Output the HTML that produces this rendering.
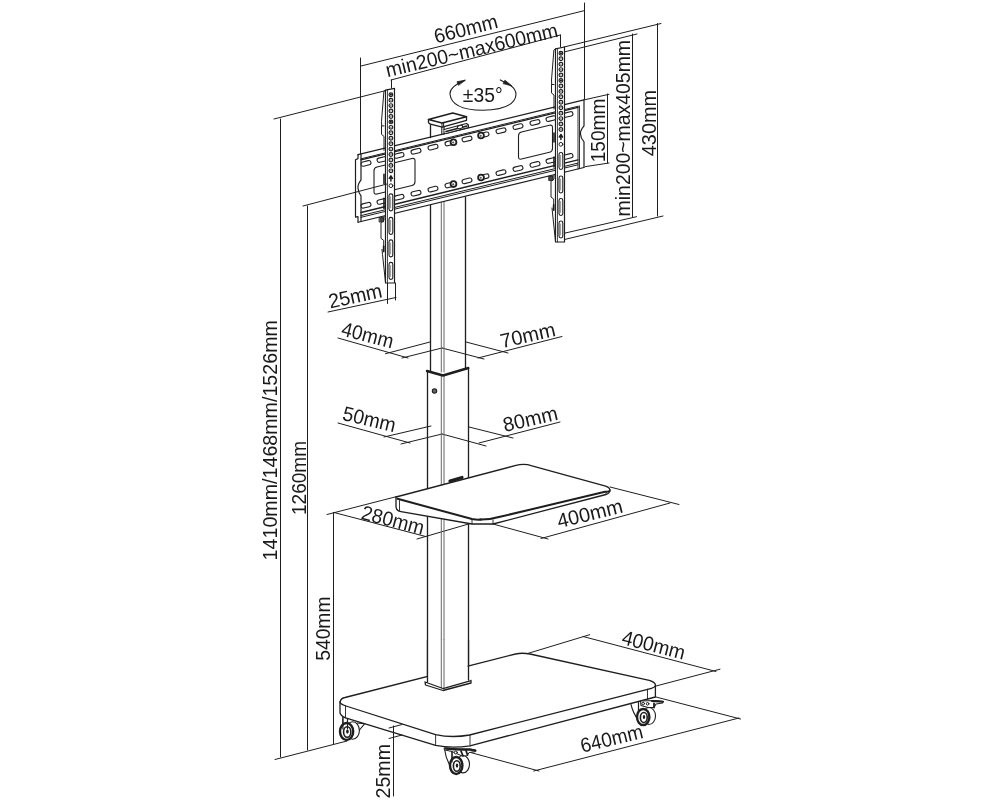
<!DOCTYPE html>
<html><head><meta charset="utf-8"><style>
html,body{margin:0;padding:0;background:#fff;width:1000px;height:800px;overflow:hidden}
svg{display:block;will-change:transform}
text{font-family:"Liberation Sans",sans-serif;fill:#1a1a1a}
</style></head><body>
<svg width="1000" height="800" viewBox="0 0 1000 800" stroke-linecap="round" stroke-linejoin="round">
<rect width="1000" height="800" fill="#fff"/>
<path d="M274,119 L388,90" stroke="#1e1e1e" stroke-width="1.0" fill="none" />
<path d="M280.5,119 V757" stroke="#1e1e1e" stroke-width="1.0" fill="none" />
<path d="M307.5,206 V750" stroke="#1e1e1e" stroke-width="1.0" fill="none" />
<path d="M275,759.5 L347,741" stroke="#1e1e1e" stroke-width="1.0" fill="none" />
<path d="M327,514.5 L397,496.5" stroke="#1e1e1e" stroke-width="1.0" fill="none" />
<path d="M333.5,512.5 V744" stroke="#1e1e1e" stroke-width="1.0" fill="none" />
<path d="M334,512.5 L426,536.6" stroke="#1e1e1e" stroke-width="1.0" fill="none" />
<path d="M417,539 L472,523" stroke="#1e1e1e" stroke-width="1.0" fill="none" />
<path d="M610,487 L679,504.5" stroke="#1e1e1e" stroke-width="1.0" fill="none" />
<path d="M493,524 L548,539" stroke="#1e1e1e" stroke-width="1.0" fill="none" />
<path d="M541,538.5 L670,503" stroke="#1e1e1e" stroke-width="1.0" fill="none" />
<path d="M361,66 L584.5,10.6" stroke="#1e1e1e" stroke-width="1.0" fill="none" />
<path d="M360.5,58 V154" stroke="#1e1e1e" stroke-width="1.0" fill="none" />
<path d="M584.5,3 V100" stroke="#1e1e1e" stroke-width="1.0" fill="none" />
<path d="M391,80 L560.3,35" stroke="#1e1e1e" stroke-width="1.0" fill="none" />
<path d="M391.5,80 V88" stroke="#1e1e1e" stroke-width="1.0" fill="none" />
<path d="M560.5,35 V47" stroke="#1e1e1e" stroke-width="1.0" fill="none" />
<path d="M564,47 L661,23.5" stroke="#1e1e1e" stroke-width="1.0" fill="none" />
<path d="M657.5,23.5 V216" stroke="#1e1e1e" stroke-width="1.0" fill="none" />
<path d="M556.5,241.4 L663,216" stroke="#1e1e1e" stroke-width="1.0" fill="none" />
<path d="M564,52 L637,34" stroke="#1e1e1e" stroke-width="1.0" fill="none" />
<path d="M632.5,34 V217" stroke="#1e1e1e" stroke-width="1.0" fill="none" />
<path d="M561,234 L636.5,216.7" stroke="#1e1e1e" stroke-width="1.0" fill="none" />
<path d="M584.5,99.8 L609,94.3" stroke="#1e1e1e" stroke-width="1.0" fill="none" />
<path d="M607.5,94 V163" stroke="#1e1e1e" stroke-width="1.0" fill="none" />
<path d="M583,167 L609,163" stroke="#1e1e1e" stroke-width="1.0" fill="none" />
<path d="M387.5,283 V303.5" stroke="#1e1e1e" stroke-width="1.0" fill="none" />
<path d="M395.5,283 V300" stroke="#1e1e1e" stroke-width="1.0" fill="none" />
<path d="M328,312 L396,297.5" stroke="#1e1e1e" stroke-width="1.0" fill="none" />
<path d="M338,338 L408,358" stroke="#1e1e1e" stroke-width="1.0" fill="none" />
<path d="M430,342 L385.5,353.7" stroke="#1e1e1e" stroke-width="1.0" fill="none" />
<path d="M442,348 L402,358" stroke="#1e1e1e" stroke-width="1.0" fill="none" />
<path d="M442,348 L484,359" stroke="#1e1e1e" stroke-width="1.0" fill="none" />
<path d="M466,342 L508,353" stroke="#1e1e1e" stroke-width="1.0" fill="none" />
<path d="M478,358 L562,336.5" stroke="#1e1e1e" stroke-width="1.0" fill="none" />
<path d="M338,423 L410,443" stroke="#1e1e1e" stroke-width="1.0" fill="none" />
<path d="M431,426 L384,437" stroke="#1e1e1e" stroke-width="1.0" fill="none" />
<path d="M442,434 L401,444" stroke="#1e1e1e" stroke-width="1.0" fill="none" />
<path d="M442,434 L486,446" stroke="#1e1e1e" stroke-width="1.0" fill="none" />
<path d="M469,427 L513,438" stroke="#1e1e1e" stroke-width="1.0" fill="none" />
<path d="M479,443 L560,422" stroke="#1e1e1e" stroke-width="1.0" fill="none" />
<path d="M526,654 L589.7,634.7" stroke="#1e1e1e" stroke-width="1.0" fill="none" />
<path d="M583,636.5 L716,671.5" stroke="#1e1e1e" stroke-width="1.0" fill="none" />
<path d="M656,686 L720,669.2" stroke="#1e1e1e" stroke-width="1.0" fill="none" />
<path d="M656,697 L740.5,719" stroke="#1e1e1e" stroke-width="1.0" fill="none" />
<path d="M533.8,771 L739,718" stroke="#1e1e1e" stroke-width="1.0" fill="none" />
<path d="M470.5,752.5 L539,771" stroke="#1e1e1e" stroke-width="1.0" fill="none" />
<path d="M430.5,205 V371 M465.5,197 V369" stroke="#1e1e1e" stroke-width="1.3" fill="none" />
<path d="M441.3,200 V372 M444,200 V372" stroke="#666" stroke-width="1.0" fill="none" />
<path d="M427.5,371 V680 M468.5,368 V680" stroke="#1e1e1e" stroke-width="1.3" fill="none" />
<path d="M441.3,375 V688 M444,375 V688" stroke="#666" stroke-width="1.0" fill="none" />
<path d="M427,371 L443,375.5 L468.3,368" stroke="#1e1e1e" stroke-width="2.4" fill="none" />
<circle cx="434.5" cy="391" r="2.2" stroke="#1e1e1e" stroke-width="1.1" fill="#666"/>
<path d="M425,682 L443,688.5 L471,680.5 M425,682 L425.5,685 L443,690.5 L471,683 L471,680.5" stroke="#1e1e1e" stroke-width="1.3" fill="none" />
<path d="M396,497 L516,465.4 Q524,463.3 532,465.8 L605.6,486.2 Q611,488 610,491.5 Q609.5,493.5 606,494.5 L493,524 L472,524 L401,511.6 Q396,510.5 396,507 Z" stroke="none" stroke-width="0" fill="#fff" />
<path d="M396,497 L516,465.4 Q524,463.3 532,465.8 L605.6,486.2 Q611,488 609.5,491" stroke="#1e1e1e" stroke-width="1.3" fill="none" />
<path d="M609.5,491 Q608,492 605,491.8 L500,516.8 Q490,519.8 480,519.6" stroke="#1e1e1e" stroke-width="2.0" fill="none" />
<path d="M397.5,498.8 L472,519 Q477,520 481,519.6" stroke="#1e1e1e" stroke-width="2.0" fill="none" />
<path d="M396,497 V507 Q396.5,511 401,511.6 L472,524 L493,524 L606,494.5 Q610,493 610,490" stroke="#1e1e1e" stroke-width="1.3" fill="none" />
<path d="M399.5,500.5 V510.5" stroke="#1e1e1e" stroke-width="0.9" fill="none" />
<path d="M472,519.5 V524 M493,519.8 V524 M606,491.8 V494.5" stroke="#1e1e1e" stroke-width="0.9" fill="none" />
<path d="M450,481 L462,477.5" stroke="#1e1e1e" stroke-width="3.2" fill="none" />
<path d="M340,702 Q341,698 345,697.5 L515.6,654 Q522,652.5 530,654 L649.25,680.4 Q656,682.5 655.4,685.6 V697 L470,745.8 Q452,748.5 435.6,745.4 L345.5,717.8 Q341,716 340,713 Z" stroke="none" stroke-width="0" fill="#fff" />
<path d="M340,702 Q341,698 345,697.5 L515.6,654 Q522,652.5 530,654 L649.25,680.4 Q656,682.5 655.4,685.6 Q654.8,687.4 651.5,688.3 L469.6,735 Q452,738.2 435.6,734.6 L346,706 Q340,704 340,702 Z" stroke="#1e1e1e" stroke-width="1.3" fill="none" />
<path d="M340,702 V713 Q341,716 345.5,717.8 L435.6,745.4 Q452,748.5 470,745.8 L655.4,697 V685.6" stroke="#1e1e1e" stroke-width="1.3" fill="none" />
<path d="M345.5,706 V717.8" stroke="#1e1e1e" stroke-width="0.9" fill="none" />
<path d="M435.6,734.6 V745.4 M470,735 V745.8 M647.5,689.2 V699" stroke="#1e1e1e" stroke-width="0.9" fill="none" />
<path d="M393.5,726 V796" stroke="#1e1e1e" stroke-width="1.0" fill="none" />
<path d="M389,728 L402,724.5" stroke="#1e1e1e" stroke-width="1.0" fill="none" />
<path d="M389,738.5 L402,735" stroke="#1e1e1e" stroke-width="1.0" fill="none" />
<rect x="427.6" y="640" width="40" height="40" fill="#fff"/>
<path d="M427.5,640 V682 M468.5,640 V680" stroke="#1e1e1e" stroke-width="1.3" fill="none" />
<path d="M441.3,640 V688 M444,640 V688" stroke="#666" stroke-width="1.0" fill="none" />
<path d="M425,682 L443,688.5 L471,680.5 M425,682 L425.5,685 L443,690.5 L471,683 L471,680.5" stroke="#1e1e1e" stroke-width="1.3" fill="none" />
<path d="M342.9,717.5 V732 M347.5,718.5 V731" stroke="#1e1e1e" stroke-width="1.1" fill="none" />
<ellipse cx="352.7" cy="730.5" rx="6.7" ry="8.7" stroke="#1e1e1e" stroke-width="1.1" fill="#fff"/>
<ellipse cx="346.6" cy="731.5" rx="6.6" ry="8.5" stroke="#1e1e1e" stroke-width="2.4" fill="#fff"/>
<ellipse cx="347.20000000000005" cy="732.0" rx="3.63" ry="5.27" stroke="#1e1e1e" stroke-width="1.6" fill="#fff"/>
<ellipse cx="347.40000000000003" cy="731.5" rx="1.32" ry="2.125" fill="#1e1e1e"/>
<path d="M342.9,717.5 V729 M347.5,718.5 V729" stroke="#1e1e1e" stroke-width="1.1" fill="none" />
<path d="M357,723 L364.5,723.8 L359.5,730" stroke="#1e1e1e" stroke-width="1.1" fill="none" />
<path d="M444.5,749 Q446,760 451.5,768 M452,750 V764" stroke="#1e1e1e" stroke-width="1.1" fill="none" />
<ellipse cx="463" cy="764.2" rx="6.5" ry="8.7" stroke="#1e1e1e" stroke-width="1.1" fill="#fff"/>
<ellipse cx="456.2" cy="765.5" rx="6.2" ry="8.5" stroke="#1e1e1e" stroke-width="2.4" fill="#fff"/>
<ellipse cx="456.8" cy="766.0" rx="3.4100000000000006" ry="5.27" stroke="#1e1e1e" stroke-width="1.6" fill="#fff"/>
<ellipse cx="457.0" cy="765.5" rx="1.2400000000000002" ry="2.125" fill="#1e1e1e"/>
<path d="M452,750 V762" stroke="#1e1e1e" stroke-width="1.1" fill="none" />
<path d="M444.5,747.8 Q458,749.5 470,749 L475.5,750 L475,751.8 L469,752.5 L467,756 L461,755.5 L452,751.5 L444.8,750 Z" stroke="#1e1e1e" stroke-width="1.0" fill="#fff" />
<path d="M446,748.6 Q458,750 470,749.6 L475.5,750.6" stroke="#1e1e1e" stroke-width="2.2" fill="none" />
<path d="M461,751 L463,756 M466,750.5 L467.5,755" stroke="#1e1e1e" stroke-width="1.8" fill="none" />
<circle cx="455.8" cy="752.5" r="1.5" fill="#fff" stroke="#1e1e1e" stroke-width="1"/>
<path d="M631,704.5 Q633,713 638,719.5 M638.5,702.5 V715" stroke="#1e1e1e" stroke-width="1.1" fill="none" />
<ellipse cx="649" cy="716" rx="6.5" ry="8.5" stroke="#1e1e1e" stroke-width="1.1" fill="#fff"/>
<ellipse cx="643.2" cy="717" rx="6.2" ry="8.0" stroke="#1e1e1e" stroke-width="2.4" fill="#fff"/>
<ellipse cx="643.8000000000001" cy="717.5" rx="3.4100000000000006" ry="4.96" stroke="#1e1e1e" stroke-width="1.6" fill="#fff"/>
<ellipse cx="644.0" cy="717" rx="1.2400000000000002" ry="2.0" fill="#1e1e1e"/>
<path d="M638.5,702.5 V713" stroke="#1e1e1e" stroke-width="1.1" fill="none" />
<path d="M640.5,701 L656,700.5 L663,701.5 L662.5,703 L656,704 L654,707.5 L648,707.5 L641,705.5 Z" stroke="#1e1e1e" stroke-width="1.1" fill="#fff" />
<path d="M652,701 L663,701.8" stroke="#1e1e1e" stroke-width="2.0" fill="none" />
<path d="M654,703.5 L654,707.5" stroke="#1e1e1e" stroke-width="1.8" fill="none" />
<circle cx="643.2" cy="703.6" r="1.3" fill="#fff" stroke="#1e1e1e" stroke-width="1"/><circle cx="647.6" cy="703.8" r="1.3" fill="#fff" stroke="#1e1e1e" stroke-width="1"/>
<path d="M355,155.35 L585,99.69 L585,167.29 L355,222.95 Z" fill="#fff"/>
<path d="M358,154.63 L584,99.93" stroke="#1e1e1e" stroke-width="1.2" fill="none" />
<path d="M361,158.80 L578,106.29" stroke="#1e1e1e" stroke-width="1.0" fill="none" />
<path d="M361,159.90 L578,107.39" stroke="#1e1e1e" stroke-width="1.3" fill="none" />
<path d="M361,212.40 L578,159.89" stroke="#1e1e1e" stroke-width="1.5" fill="none" />
<path d="M361,215.60 L578,163.09" stroke="#1e1e1e" stroke-width="1.0" fill="none" />
<path d="M361,217.30 L578,164.79" stroke="#1e1e1e" stroke-width="1.0" fill="none" />
<path d="M358,222.23 L584,167.53" stroke="#1e1e1e" stroke-width="1.2" fill="none" />
<path d="M358,154.6 V158.6 L355.5,159.7 V217.2 L358,216.6 V222.2" stroke="#1e1e1e" stroke-width="1.2" fill="none" />
<path d="M361,153.9 V179.9 Q357.5,184.9 358,187.9 Q358,191.9 361,195.9 V221.5" stroke="#1e1e1e" stroke-width="1.2" fill="none" />
<path d="M578,106.3 V169.0 M579.5,105.9 V168.6" stroke="#1e1e1e" stroke-width="0.9" fill="none" />
<path d="M584,99.9 V125.9 Q580,130.9 580.5,133.9 Q580.5,137.9 584,141.9 V167.5" stroke="#1e1e1e" stroke-width="1.2" fill="none" />
<path d="M377,167.03 L412,158.56 Q415,157.83 415,160.83 L415,181.83 Q415,184.83 412,185.56 L377,194.03 Q374,194.75 374,191.75 L374,170.75 Q374,167.75 377,167.03 Z" stroke="#1e1e1e" stroke-width="1.1" fill="none" />
<path d="M521.5,132.06 L549.5,125.28 Q552.5,124.56 552.5,127.56 L552.5,148.56 Q552.5,151.56 549.5,152.28 L521.5,159.06 Q518.5,159.78 518.5,156.78 L518.5,135.78 Q518.5,132.78 521.5,132.06 Z" stroke="#1e1e1e" stroke-width="1.1" fill="none" />
<rect x="-5.0" y="-2.15" width="10" height="4.3" rx="2.1" transform="translate(366,163.39) rotate(-13.6)" stroke="#1e1e1e" stroke-width="1.1" fill="#fff"/>
<rect x="-5.0" y="-2.15" width="10" height="4.3" rx="2.1" transform="translate(366,205.29) rotate(-13.6)" stroke="#1e1e1e" stroke-width="1.1" fill="#fff"/>
<rect x="-5.0" y="-2.15" width="10" height="4.3" rx="2.1" transform="translate(382,159.52) rotate(-13.6)" stroke="#1e1e1e" stroke-width="1.1" fill="#fff"/>
<rect x="-5.0" y="-2.15" width="10" height="4.3" rx="2.1" transform="translate(382,201.42) rotate(-13.6)" stroke="#1e1e1e" stroke-width="1.1" fill="#fff"/>
<rect x="-5.0" y="-2.15" width="10" height="4.3" rx="2.1" transform="translate(399,155.40) rotate(-13.6)" stroke="#1e1e1e" stroke-width="1.1" fill="#fff"/>
<rect x="-5.0" y="-2.15" width="10" height="4.3" rx="2.1" transform="translate(399,197.30) rotate(-13.6)" stroke="#1e1e1e" stroke-width="1.1" fill="#fff"/>
<rect x="-5.0" y="-2.15" width="10" height="4.3" rx="2.1" transform="translate(416,151.29) rotate(-13.6)" stroke="#1e1e1e" stroke-width="1.1" fill="#fff"/>
<rect x="-5.0" y="-2.15" width="10" height="4.3" rx="2.1" transform="translate(416,193.19) rotate(-13.6)" stroke="#1e1e1e" stroke-width="1.1" fill="#fff"/>
<rect x="-5.0" y="-2.15" width="10" height="4.3" rx="2.1" transform="translate(433,147.18) rotate(-13.6)" stroke="#1e1e1e" stroke-width="1.1" fill="#fff"/>
<rect x="-5.0" y="-2.15" width="10" height="4.3" rx="2.1" transform="translate(433,189.08) rotate(-13.6)" stroke="#1e1e1e" stroke-width="1.1" fill="#fff"/>
<rect x="-5.0" y="-2.15" width="10" height="4.3" rx="2.1" transform="translate(450,143.06) rotate(-13.6)" stroke="#1e1e1e" stroke-width="1.1" fill="#fff"/>
<rect x="-5.0" y="-2.15" width="10" height="4.3" rx="2.1" transform="translate(450,184.96) rotate(-13.6)" stroke="#1e1e1e" stroke-width="1.1" fill="#fff"/>
<rect x="-5.0" y="-2.15" width="10" height="4.3" rx="2.1" transform="translate(467,138.95) rotate(-13.6)" stroke="#1e1e1e" stroke-width="1.1" fill="#fff"/>
<rect x="-5.0" y="-2.15" width="10" height="4.3" rx="2.1" transform="translate(467,180.85) rotate(-13.6)" stroke="#1e1e1e" stroke-width="1.1" fill="#fff"/>
<rect x="-5.0" y="-2.15" width="10" height="4.3" rx="2.1" transform="translate(484,134.83) rotate(-13.6)" stroke="#1e1e1e" stroke-width="1.1" fill="#fff"/>
<rect x="-5.0" y="-2.15" width="10" height="4.3" rx="2.1" transform="translate(484,176.73) rotate(-13.6)" stroke="#1e1e1e" stroke-width="1.1" fill="#fff"/>
<rect x="-5.0" y="-2.15" width="10" height="4.3" rx="2.1" transform="translate(501,130.72) rotate(-13.6)" stroke="#1e1e1e" stroke-width="1.1" fill="#fff"/>
<rect x="-5.0" y="-2.15" width="10" height="4.3" rx="2.1" transform="translate(501,172.62) rotate(-13.6)" stroke="#1e1e1e" stroke-width="1.1" fill="#fff"/>
<rect x="-5.0" y="-2.15" width="10" height="4.3" rx="2.1" transform="translate(518,126.61) rotate(-13.6)" stroke="#1e1e1e" stroke-width="1.1" fill="#fff"/>
<rect x="-5.0" y="-2.15" width="10" height="4.3" rx="2.1" transform="translate(518,168.51) rotate(-13.6)" stroke="#1e1e1e" stroke-width="1.1" fill="#fff"/>
<rect x="-5.0" y="-2.15" width="10" height="4.3" rx="2.1" transform="translate(535,122.49) rotate(-13.6)" stroke="#1e1e1e" stroke-width="1.1" fill="#fff"/>
<rect x="-5.0" y="-2.15" width="10" height="4.3" rx="2.1" transform="translate(535,164.39) rotate(-13.6)" stroke="#1e1e1e" stroke-width="1.1" fill="#fff"/>
<rect x="-5.0" y="-2.15" width="10" height="4.3" rx="2.1" transform="translate(551,118.62) rotate(-13.6)" stroke="#1e1e1e" stroke-width="1.1" fill="#fff"/>
<rect x="-5.0" y="-2.15" width="10" height="4.3" rx="2.1" transform="translate(551,160.52) rotate(-13.6)" stroke="#1e1e1e" stroke-width="1.1" fill="#fff"/>
<rect x="-5.0" y="-2.15" width="10" height="4.3" rx="2.1" transform="translate(568,114.51) rotate(-13.6)" stroke="#1e1e1e" stroke-width="1.1" fill="#fff"/>
<rect x="-5.0" y="-2.15" width="10" height="4.3" rx="2.1" transform="translate(568,156.41) rotate(-13.6)" stroke="#1e1e1e" stroke-width="1.1" fill="#fff"/>
<circle cx="453.5" cy="142.22" r="2.9" stroke="#1e1e1e" stroke-width="1.8" fill="#fff"/>
<circle cx="453.2" cy="142.52" r="1.1" fill="#555"/>
<circle cx="481" cy="135.56" r="2.9" stroke="#1e1e1e" stroke-width="1.8" fill="#fff"/>
<circle cx="480.7" cy="135.86" r="1.1" fill="#555"/>
<circle cx="453.5" cy="184.12" r="2.9" stroke="#1e1e1e" stroke-width="1.8" fill="#fff"/>
<circle cx="453.2" cy="184.42" r="1.1" fill="#555"/>
<circle cx="481" cy="177.46" r="2.9" stroke="#1e1e1e" stroke-width="1.8" fill="#fff"/>
<circle cx="480.7" cy="177.76" r="1.1" fill="#555"/>
<path d="M430.5,124 V137.5" stroke="#1e1e1e" stroke-width="1.3" fill="none" />
<path d="M441.8,127 V134.6 M444,126.5 V134.2" stroke="#1e1e1e" stroke-width="1.1" fill="none" />
<path d="M444,129.5 L466.5,123.5 L468.5,125 V127.5 L446,133.5" stroke="#1e1e1e" stroke-width="1.1" fill="#fff" />
<path d="M446,131.5 L467,126" stroke="#1e1e1e" stroke-width="1.6" fill="none" />
<ellipse cx="460" cy="127" rx="2.8" ry="1.6" transform="rotate(-14 460 127)" stroke="#1e1e1e" stroke-width="1.0" fill="#fff"/>
<path d="M428.5,119.5 V122.5 Q429,123.8 430.5,124.2 L442.2,127.2 L466.5,120.3 V116.75" stroke="#1e1e1e" stroke-width="1.3" fill="#fff" />
<path d="M428.5,119.5 L452.75,113 L466.5,116.75 L442,123 Z" stroke="#1e1e1e" stroke-width="1.6" fill="#fff" />
<path d="M442,123 V127.2 M443.6,122.7 V127" stroke="#1e1e1e" stroke-width="1.0" fill="none" />
<path d="M385.5,90.2 L394.5,88.4 V283 L385.5,283 Z" fill="#fff" stroke="#1e1e1e" stroke-width="1.2"/>
<path d="M387.5,90.0 V283" stroke="#1e1e1e" stroke-width="0.8" fill="none" />
<path d="M385.5,90.2 L383.9,91.4 L381.5,121.4 L381.7,125.9 L384.0,125.9 M381.5,125.9 V134.4 L384.0,136.4 V150.4" stroke="#1e1e1e" stroke-width="1.0" fill="none" />
<path d="M384.0,174.4 V183.4 M384.0,198.4 V208.4" stroke="#1e1e1e" stroke-width="1.6" fill="none" />
<path d="M384.0,216.4 V220.4 L381.0,222.4 V238.4 L383.7,240.4 V246.4 M382.0,249.4 L382.5,254.4 L385.5,282.5" stroke="#1e1e1e" stroke-width="1.0" fill="none" />
<path d="M383.7,246.4 V251.4" stroke="#1e1e1e" stroke-width="1.8" fill="none" />
<circle cx="390.9" cy="94.70" r="1.85" stroke="#1e1e1e" stroke-width="1.2" fill="#fff"/>
<circle cx="390.9" cy="94.70" r="1.1" fill="#1e1e1e"/>
<circle cx="390.9" cy="100.14" r="1.85" stroke="#1e1e1e" stroke-width="1.2" fill="#fff"/>
<circle cx="390.9" cy="100.14" r="0.8" fill="#777"/>
<circle cx="390.9" cy="105.58" r="1.85" stroke="#1e1e1e" stroke-width="1.2" fill="#fff"/>
<circle cx="390.9" cy="105.58" r="0.8" fill="#777"/>
<circle cx="390.9" cy="111.02" r="1.85" stroke="#1e1e1e" stroke-width="1.2" fill="#fff"/>
<circle cx="390.9" cy="111.02" r="0.8" fill="#777"/>
<circle cx="390.9" cy="116.46" r="1.85" stroke="#1e1e1e" stroke-width="1.2" fill="#fff"/>
<circle cx="390.9" cy="116.46" r="0.8" fill="#777"/>
<circle cx="390.9" cy="121.90" r="1.85" stroke="#1e1e1e" stroke-width="1.2" fill="#fff"/>
<circle cx="390.9" cy="121.90" r="1.1" fill="#1e1e1e"/>
<circle cx="390.9" cy="127.34" r="1.85" stroke="#1e1e1e" stroke-width="1.2" fill="#fff"/>
<circle cx="390.9" cy="127.34" r="0.8" fill="#777"/>
<circle cx="390.9" cy="132.78" r="1.85" stroke="#1e1e1e" stroke-width="1.2" fill="#fff"/>
<circle cx="390.9" cy="132.78" r="0.8" fill="#777"/>
<circle cx="390.9" cy="138.22" r="1.85" stroke="#1e1e1e" stroke-width="1.2" fill="#fff"/>
<circle cx="390.9" cy="138.22" r="0.8" fill="#777"/>
<circle cx="390.9" cy="143.66" r="1.85" stroke="#1e1e1e" stroke-width="1.2" fill="#fff"/>
<circle cx="390.9" cy="143.66" r="0.8" fill="#777"/>
<circle cx="390.9" cy="149.10" r="1.85" stroke="#1e1e1e" stroke-width="1.2" fill="#fff"/>
<circle cx="390.9" cy="149.10" r="0.8" fill="#777"/>
<circle cx="390.9" cy="154.54" r="1.85" stroke="#1e1e1e" stroke-width="1.2" fill="#fff"/>
<circle cx="390.9" cy="154.54" r="0.8" fill="#777"/>
<circle cx="390.9" cy="159.98" r="1.85" stroke="#1e1e1e" stroke-width="1.2" fill="#fff"/>
<circle cx="390.9" cy="159.98" r="0.8" fill="#777"/>
<circle cx="390.9" cy="165.42" r="1.85" stroke="#1e1e1e" stroke-width="1.2" fill="#fff"/>
<circle cx="390.9" cy="165.42" r="0.8" fill="#777"/>
<circle cx="390.9" cy="170.86" r="1.85" stroke="#1e1e1e" stroke-width="1.2" fill="#fff"/>
<circle cx="390.9" cy="170.86" r="0.8" fill="#777"/>
<path d="M390.9,176.4 V180.9 M389.29999999999995,178.4 L390.9,175.9 L392.5,178.4" stroke="#1e1e1e" stroke-width="1.5" fill="none" />
<circle cx="390.9" cy="185.7" r="1.9" stroke="#1e1e1e" stroke-width="1.0" fill="#fff"/>
<rect x="389.0" y="193.9" width="3.8" height="17" rx="1.9" stroke="#1e1e1e" stroke-width="1.1" fill="#fff"/>
<path d="M390.59999999999997,196.9 V207.9" stroke="#777" stroke-width="0.8" fill="none" />
<rect x="389.0" y="217.4" width="3.8" height="17" rx="1.9" stroke="#1e1e1e" stroke-width="1.1" fill="#fff"/>
<path d="M390.59999999999997,220.4 V231.4" stroke="#777" stroke-width="0.8" fill="none" />
<rect x="389.0" y="239.9" width="3.8" height="17" rx="1.9" stroke="#1e1e1e" stroke-width="1.1" fill="#fff"/>
<path d="M390.59999999999997,242.9 V253.9" stroke="#777" stroke-width="0.8" fill="none" />
<rect x="389.0" y="262.4" width="3.8" height="17" rx="1.9" stroke="#1e1e1e" stroke-width="1.1" fill="#fff"/>
<path d="M390.59999999999997,265.4 V276.4" stroke="#777" stroke-width="0.8" fill="none" />
<path d="M555.5,48.8 L564.5,47 V242 L555.5,242 Z" fill="#fff" stroke="#1e1e1e" stroke-width="1.2"/>
<path d="M557.5,48.6 V242" stroke="#1e1e1e" stroke-width="0.8" fill="none" />
<path d="M555.5,48.8 L553.9,50 L551.5,80 L551.7,84.5 L554.0,84.5 M551.5,84.5 V93 L554.0,95 V109" stroke="#1e1e1e" stroke-width="1.0" fill="none" />
<path d="M554.0,133 V142 M554.0,157 V167" stroke="#1e1e1e" stroke-width="1.6" fill="none" />
<path d="M554.0,175 V179 L551.0,181 V197 L553.7,199 V205 M552.0,208 L552.5,213 L555.5,241.5" stroke="#1e1e1e" stroke-width="1.0" fill="none" />
<path d="M553.7,205 V210" stroke="#1e1e1e" stroke-width="1.8" fill="none" />
<circle cx="560.9" cy="53.30" r="1.85" stroke="#1e1e1e" stroke-width="1.2" fill="#fff"/>
<circle cx="560.9" cy="53.30" r="1.1" fill="#1e1e1e"/>
<circle cx="560.9" cy="58.74" r="1.85" stroke="#1e1e1e" stroke-width="1.2" fill="#fff"/>
<circle cx="560.9" cy="58.74" r="0.8" fill="#777"/>
<circle cx="560.9" cy="64.18" r="1.85" stroke="#1e1e1e" stroke-width="1.2" fill="#fff"/>
<circle cx="560.9" cy="64.18" r="0.8" fill="#777"/>
<circle cx="560.9" cy="69.62" r="1.85" stroke="#1e1e1e" stroke-width="1.2" fill="#fff"/>
<circle cx="560.9" cy="69.62" r="0.8" fill="#777"/>
<circle cx="560.9" cy="75.06" r="1.85" stroke="#1e1e1e" stroke-width="1.2" fill="#fff"/>
<circle cx="560.9" cy="75.06" r="0.8" fill="#777"/>
<circle cx="560.9" cy="80.50" r="1.85" stroke="#1e1e1e" stroke-width="1.2" fill="#fff"/>
<circle cx="560.9" cy="80.50" r="1.1" fill="#1e1e1e"/>
<circle cx="560.9" cy="85.94" r="1.85" stroke="#1e1e1e" stroke-width="1.2" fill="#fff"/>
<circle cx="560.9" cy="85.94" r="0.8" fill="#777"/>
<circle cx="560.9" cy="91.38" r="1.85" stroke="#1e1e1e" stroke-width="1.2" fill="#fff"/>
<circle cx="560.9" cy="91.38" r="0.8" fill="#777"/>
<circle cx="560.9" cy="96.82" r="1.85" stroke="#1e1e1e" stroke-width="1.2" fill="#fff"/>
<circle cx="560.9" cy="96.82" r="0.8" fill="#777"/>
<circle cx="560.9" cy="102.26" r="1.85" stroke="#1e1e1e" stroke-width="1.2" fill="#fff"/>
<circle cx="560.9" cy="102.26" r="0.8" fill="#777"/>
<circle cx="560.9" cy="107.70" r="1.85" stroke="#1e1e1e" stroke-width="1.2" fill="#fff"/>
<circle cx="560.9" cy="107.70" r="0.8" fill="#777"/>
<circle cx="560.9" cy="113.14" r="1.85" stroke="#1e1e1e" stroke-width="1.2" fill="#fff"/>
<circle cx="560.9" cy="113.14" r="0.8" fill="#777"/>
<circle cx="560.9" cy="118.58" r="1.85" stroke="#1e1e1e" stroke-width="1.2" fill="#fff"/>
<circle cx="560.9" cy="118.58" r="0.8" fill="#777"/>
<circle cx="560.9" cy="124.02" r="1.85" stroke="#1e1e1e" stroke-width="1.2" fill="#fff"/>
<circle cx="560.9" cy="124.02" r="0.8" fill="#777"/>
<circle cx="560.9" cy="129.46" r="1.85" stroke="#1e1e1e" stroke-width="1.2" fill="#fff"/>
<circle cx="560.9" cy="129.46" r="0.8" fill="#777"/>
<path d="M560.9,135 V139.5 M559.3,137 L560.9,134.5 L562.5,137" stroke="#1e1e1e" stroke-width="1.5" fill="none" />
<circle cx="560.9" cy="144.3" r="1.9" stroke="#1e1e1e" stroke-width="1.0" fill="#fff"/>
<rect x="559.0" y="152.5" width="3.8" height="17" rx="1.9" stroke="#1e1e1e" stroke-width="1.1" fill="#fff"/>
<path d="M560.6,155.5 V166.5" stroke="#777" stroke-width="0.8" fill="none" />
<rect x="559.0" y="176" width="3.8" height="17" rx="1.9" stroke="#1e1e1e" stroke-width="1.1" fill="#fff"/>
<path d="M560.6,179 V190" stroke="#777" stroke-width="0.8" fill="none" />
<rect x="559.0" y="198.5" width="3.8" height="17" rx="1.9" stroke="#1e1e1e" stroke-width="1.1" fill="#fff"/>
<path d="M560.6,201.5 V212.5" stroke="#777" stroke-width="0.8" fill="none" />
<rect x="559.0" y="221" width="3.8" height="17" rx="1.9" stroke="#1e1e1e" stroke-width="1.1" fill="#fff"/>
<path d="M560.6,224 V235" stroke="#777" stroke-width="0.8" fill="none" />
<rect x="379.5" y="217.5" width="4" height="4.5" fill="#444" stroke="#1e1e1e" stroke-width="0.8"/>
<rect x="549" y="176" width="4" height="4.5" fill="#444" stroke="#1e1e1e" stroke-width="0.8"/>
<path d="M303,206 L387,184" stroke="#1e1e1e" stroke-width="1.0" fill="none" />
<path d="M464.7,80.4 Q449.5,86.5 450,94 Q451.5,110 482.5,110.2 Q515,109.5 516,94.5 Q516,89.5 511,85.8" stroke="#1e1e1e" stroke-width="1.1" fill="none" />
<path d="M500.3,79.9 L511,85.8" stroke="#1e1e1e" stroke-width="1.1" fill="none" />
<path d="M465,80.2 L457,81.75 L458.4,85.05 Z" stroke="#1e1e1e" stroke-width="0.8" fill="#1e1e1e" />
<path d="M511.3,85.4 L504.9,80.2 L503.3,83.4 Z" stroke="#1e1e1e" stroke-width="0.8" fill="#1e1e1e" />
<text transform="translate(436.03,43.45) rotate(-14.21)" font-size="20.3" textLength="65.04" lengthAdjust="spacingAndGlyphs">660mm</text>
<text transform="translate(387.53,77.23) rotate(-13.40)" font-size="20.3" textLength="176.26" lengthAdjust="spacingAndGlyphs">min200~max600mm</text>
<text transform="translate(462.85,102.00) rotate(0.00)" font-size="20.3" textLength="39.75" lengthAdjust="spacingAndGlyphs">±35°</text>
<text transform="translate(605.10,162.30) rotate(-90.00)" font-size="20.3" textLength="63.60" lengthAdjust="spacingAndGlyphs">150mm</text>
<text transform="translate(629.70,216.40) rotate(-90.00)" font-size="20.3" textLength="176.40" lengthAdjust="spacingAndGlyphs">min200~max405mm</text>
<text transform="translate(655.90,156.20) rotate(-90.00)" font-size="20.3" textLength="66.30" lengthAdjust="spacingAndGlyphs">430mm</text>
<text transform="translate(330.22,308.62) rotate(-12.46)" font-size="20.3" textLength="54.34" lengthAdjust="spacingAndGlyphs">25mm</text>
<text transform="translate(340.33,335.15) rotate(14.55)" font-size="20.3" textLength="52.85" lengthAdjust="spacingAndGlyphs">40mm</text>
<text transform="translate(502.02,348.22) rotate(-12.76)" font-size="20.3" textLength="55.84" lengthAdjust="spacingAndGlyphs">70mm</text>
<text transform="translate(341.53,419.77) rotate(13.24)" font-size="20.3" textLength="53.89" lengthAdjust="spacingAndGlyphs">50mm</text>
<text transform="translate(504.73,432.03) rotate(-13.14)" font-size="20.3" textLength="55.62" lengthAdjust="spacingAndGlyphs">80mm</text>
<text transform="translate(360.28,518.75) rotate(14.58)" font-size="20.3" textLength="63.86" lengthAdjust="spacingAndGlyphs">280mm</text>
<text transform="translate(559.03,528.24) rotate(-13.72)" font-size="20.3" textLength="66.86" lengthAdjust="spacingAndGlyphs">400mm</text>
<text transform="translate(276.50,560.40) rotate(-90.00)" font-size="20.3" textLength="240.30" lengthAdjust="spacingAndGlyphs">1410mm/1468mm/1526mm</text>
<text transform="translate(305.70,515.00) rotate(-90.00)" font-size="20.3" textLength="74.10" lengthAdjust="spacingAndGlyphs">1260mm</text>
<text transform="translate(330.20,660.80) rotate(-90.00)" font-size="20.3" textLength="64.30" lengthAdjust="spacingAndGlyphs">540mm</text>
<text transform="translate(620.63,643.75) rotate(14.30)" font-size="20.3" textLength="64.66" lengthAdjust="spacingAndGlyphs">400mm</text>
<text transform="translate(582.23,752.83) rotate(-13.55)" font-size="20.3" textLength="63.83" lengthAdjust="spacingAndGlyphs">640mm</text>
<text transform="translate(390.00,798.50) rotate(-90.00)" font-size="20.3" textLength="54.50" lengthAdjust="spacingAndGlyphs">25mm</text>
</svg></body></html>
